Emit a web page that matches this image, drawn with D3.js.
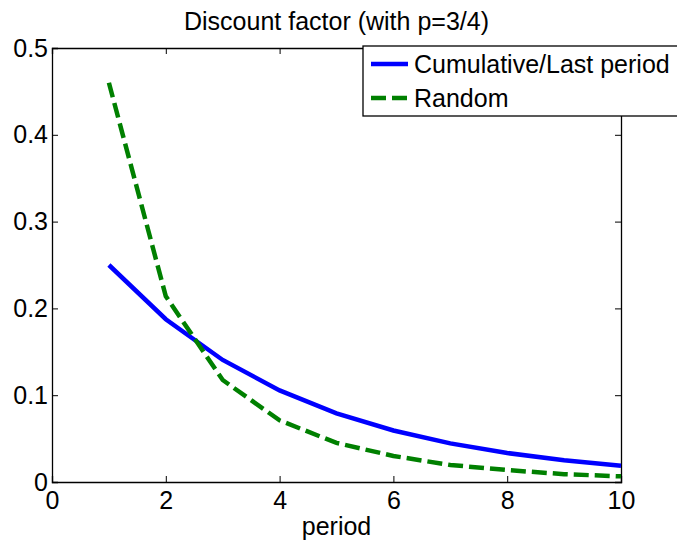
<!DOCTYPE html>
<html>
<head>
<meta charset="utf-8">
<script src="https://cdn.jsdelivr.net/npm/d3@7"></script>
<style>
  body { margin: 0; background: #fff; overflow: hidden; }
  svg { display: block; font-family: "Liberation Sans", Arial, sans-serif; }
</style>
</head>
<body>
<svg id="chart" width="677" height="548"></svg>
<script>
// values
const periods = [1, 2, 3, 4, 5, 6, 7, 8, 9, 10];
const cumulative = [0.25, 0.1875, 0.1406, 0.1055, 0.0791, 0.0593, 0.0445, 0.0334, 0.025, 0.0188];
const random = [0.46, 0.214, 0.1175, 0.071, 0.045, 0.030, 0.0196, 0.0138, 0.009, 0.0065];
const xTicks = [0, 2, 4, 6, 8, 10];
const yTicks = [0, 0.1, 0.2, 0.3, 0.4, 0.5];
const seriesNames = ['Cumulative/Last period', 'Random'];

const svg = d3.select('#chart');
const box = { left: 52, right: 621, top: 48, bottom: 482 };
const FONT = 25;

const x = d3.scaleLinear().domain([0, 10]).range([box.left, box.right]);
const y = d3.scaleLinear().domain([0, 0.5]).range([box.bottom, box.top]);

// axes: ticks point inward, mirrored on top/right like matlab's box
const tickLen = 6;
const axB = svg.append('g').attr('transform', `translate(0,${box.bottom})`)
    .call(d3.axisBottom(x).tickValues(xTicks).tickSize(-tickLen).tickPadding(9).tickFormat(d3.format('d')));
const axT = svg.append('g').attr('transform', `translate(0,${box.top})`)
    .call(d3.axisTop(x).tickValues(xTicks).tickSize(-tickLen).tickFormat(''));
const axL = svg.append('g').attr('transform', `translate(${box.left},0)`)
    .call(d3.axisLeft(y).tickValues(yTicks).tickSize(-tickLen).tickPadding(4).tickFormat(d => d === 0 ? '0' : d3.format('.1f')(d)));
const axR = svg.append('g').attr('transform', `translate(${box.right},0)`)
    .call(d3.axisRight(y).tickValues(yTicks).tickSize(-tickLen).tickFormat(''));

[axB, axT, axL, axR].forEach(a => {
    a.attr('font-size', FONT).attr('font-family', null);
    a.selectAll('path').attr('stroke', '#000').attr('stroke-width', 1.3);
    a.selectAll('line').attr('stroke', '#000').attr('stroke-width', 1);
    a.selectAll('text').attr('fill', '#000');
});

const line = d3.line().x((d, i) => x(periods[i])).y(d => y(d));

svg.append('path').datum(cumulative)
    .attr('d', line).attr('fill', 'none')
    .attr('stroke', '#0000ff').attr('stroke-width', 4.5);

svg.append('path').datum(random)
    .attr('d', line).attr('fill', 'none')
    .attr('stroke', '#008000').attr('stroke-width', 4.5)
    .attr('stroke-dasharray', '15,6');

// title + xlabel
svg.append('text').attr('x', (box.left + box.right) / 2).attr('y', 30).attr('text-anchor', 'middle')
    .attr('font-size', FONT).text('Discount factor (with p=3/4)');
svg.append('text').attr('x', (box.left + box.right) / 2).attr('y', 535).attr('text-anchor', 'middle')
    .attr('font-size', FONT).text('period');

// legend (runs off the right edge, as in the original)
const lg = svg.append('g').attr('transform', 'translate(363,46)');
lg.append('rect').attr('x', 0).attr('y', 0).attr('width', 330).attr('height', 70)
    .attr('fill', '#fff').attr('stroke', '#000').attr('stroke-width', 1.3);
const items = [
    { color: '#0000ff', dash: null },
    { color: '#008000', dash: '15,6' }
];
items.forEach((it, i) => {
    const cy = 18 + i * 34;
    lg.append('line').attr('x1', 8).attr('x2', 45).attr('y1', cy).attr('y2', cy)
        .attr('stroke', it.color).attr('stroke-width', 4.5)
        .attr('stroke-dasharray', it.dash);
    lg.append('text').attr('x', 51).attr('y', cy + 9)
        .attr('font-size', FONT).text(seriesNames[i]);
});
</script>
</body>
</html>
